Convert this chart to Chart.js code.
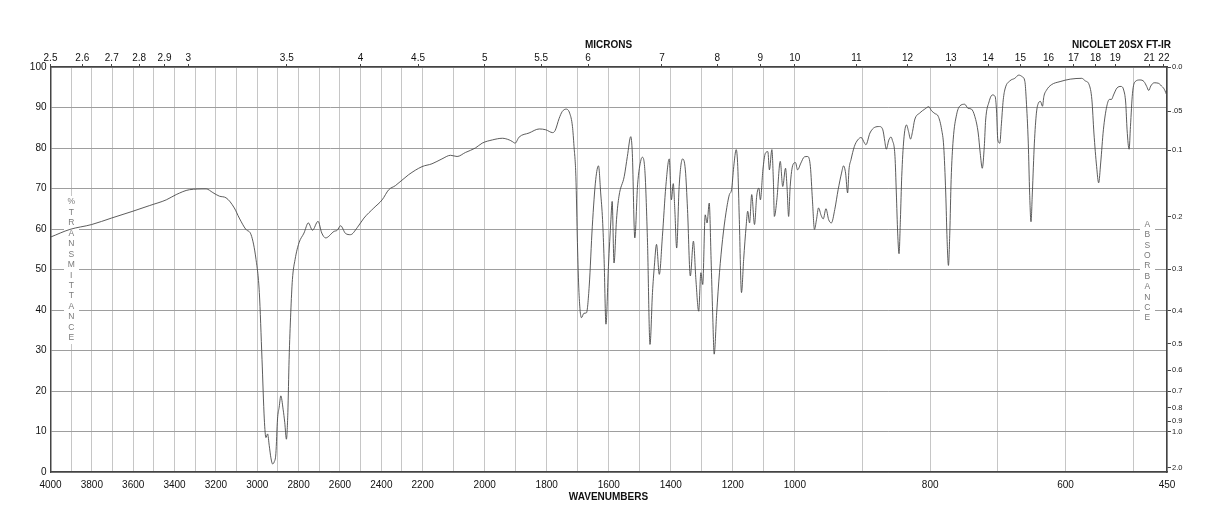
<!DOCTYPE html>
<html>
<head>
<meta charset="utf-8">
<script src="https://cdn.jsdelivr.net/npm/chart.js@4.4.1/dist/chart.umd.min.js"></script>
<style>
    html, body { margin: 0; padding: 0; background: #fff; }
    #wrap { width: 1218px; height: 528px; position: relative; }
</style>
</head>
<body>
<div id="wrap"><canvas id="ir"></canvas></div>
<script>
// 光谱数据 (波数 cm-1, 透过率 %T)
const wavenumbers = [
    4000, 3906, 3801, 3705, 3601, 3520, 3440, 3392, 3328, 3247, 3215, 3183, 3151, 3111, 3087, 3055, 3030, 3006, 2990, 2977,
    2966, 2958, 2950, 2942, 2934, 2926, 2918, 2910, 2902, 2894, 2886, 2875, 2867, 2859, 2852, 2846, 2838, 2830, 2817, 2798,
    2774, 2753, 2733, 2706, 2688, 2669, 2629, 2613, 2597, 2573, 2549, 2517, 2484, 2436, 2396, 2364, 2332, 2268, 2203, 2170,
    2138, 2110, 2089, 2062, 2030, 2008, 1975, 1943, 1921, 1911, 1902, 1889, 1857, 1824, 1803, 1781, 1773, 1760, 1750, 1737,
    1726, 1717, 1712, 1706, 1701, 1696, 1688, 1680, 1672, 1663, 1653, 1642, 1633, 1626, 1620, 1615, 1609, 1601, 1593, 1589,
    1583, 1575, 1567, 1550, 1540, 1529, 1524, 1516, 1507, 1496, 1491, 1483, 1475, 1467, 1459, 1453, 1446, 1437, 1427, 1416,
    1405, 1398, 1392, 1387, 1381, 1373, 1362, 1353, 1346, 1337, 1327, 1319, 1310, 1303, 1297, 1289, 1283, 1276, 1270, 1265,
    1260, 1252, 1243, 1233, 1222, 1211, 1204, 1197, 1189, 1184, 1179, 1172, 1165, 1157, 1152, 1146, 1139, 1130, 1123, 1116,
    1111, 1103, 1095, 1087, 1082, 1074, 1069, 1066, 1058, 1047, 1039, 1030, 1025, 1020, 1015, 1006, 999, 996, 991, 986,
    981, 977, 974, 971, 968, 965, 961, 958, 954, 950, 946, 941, 936, 931, 928, 925, 922, 920, 917, 912,
    907, 902, 897, 895, 889, 882, 875, 870, 867, 865, 861, 858, 856, 852, 850, 848, 846, 844, 842, 839,
    835, 832, 829, 826, 823, 815, 808, 802, 798, 793, 788, 783, 780, 777, 775, 773, 771, 769, 766, 761,
    756, 749, 744, 739, 734, 729, 726, 723, 720, 718, 713, 708, 704, 702, 700, 697, 695, 692, 689, 682,
    675, 669, 664, 660, 658, 655, 653, 651, 649, 646, 643, 640, 637, 634, 632, 628, 621, 608, 593, 576,
    571, 565, 561, 558, 554, 551, 548, 544, 539, 535, 532, 529, 524, 518, 514, 511, 509, 506, 504, 501,
    497, 490, 484, 480, 477, 474, 469, 463, 458, 454, 450
];
const transmittance = [
    58.0, 59.9, 61.1, 62.7, 64.4, 65.8, 67.2, 68.5, 69.7, 69.9, 69.0, 68.1, 67.7, 65.2, 62.7, 59.9, 58.6, 52.5, 44.3, 27.8,
    13.1, 8.5, 9.4, 6.5, 3.5, 2.0, 2.5, 4.5, 13.1, 16.0, 18.8, 15.5, 12.2, 8.1, 14.7, 27.8, 39.3, 47.5, 52.5, 56.6,
    59.0, 61.5, 59.7, 61.9, 59.0, 57.8, 59.4, 59.7, 60.8, 58.9, 58.6, 60.3, 62.7, 65.2, 67.2, 69.7, 70.7, 73.4, 75.4, 76.1,
    77.3, 78.2, 77.9, 78.9, 80.0, 81.2, 82.0, 82.4, 82.0, 81.6, 81.2, 82.7, 83.7, 84.7, 84.5, 83.8, 84.3, 87.3, 89.0, 89.6,
    88.6, 85.3, 80.4, 73.0, 56.6, 44.3, 38.1, 39.2, 39.3, 45.9, 60.7, 72.2, 75.6, 68.9, 62.3, 52.5, 36.5, 50.8, 62.3, 66.8,
    51.6, 62.3, 68.1, 73.0, 77.9, 82.8, 78.7, 57.8, 70.9, 77.1, 77.7, 73.8, 56.6, 31.5, 44.3, 50.8, 56.2, 48.8, 58.2, 70.5,
    77.3, 67.2, 71.2, 64.8, 55.3, 70.5, 77.3, 74.6, 64.8, 48.4, 57.0, 47.5, 39.7, 49.2, 46.3, 63.5, 61.5, 66.4, 52.5, 39.3,
    29.1, 39.3, 49.2, 57.4, 64.0, 68.5, 69.7, 75.4, 79.6, 75.4, 62.3, 44.3, 52.5, 60.7, 64.4, 61.5, 68.5, 61.1, 68.1, 70.1,
    67.2, 74.6, 78.7, 79.1, 74.6, 79.6, 71.4, 63.1, 67.2, 76.7, 70.5, 75.0, 70.1, 63.1, 70.5, 75.9, 76.4, 74.6, 76.3, 77.8,
    77.9, 75.4, 67.2, 59.9, 62.3, 65.2, 63.3, 62.5, 65.0, 62.3, 61.5, 64.8, 69.7, 73.8, 75.6, 73.8, 68.9, 74.6, 77.1, 80.4,
    82.0, 82.6, 81.2, 80.8, 83.7, 85.1, 85.3, 84.5, 81.6, 79.7, 82.0, 82.7, 82.0, 77.9, 68.9, 59.0, 53.9, 62.3, 73.0, 82.0,
    85.7, 84.1, 82.2, 84.1, 86.9, 88.7, 89.6, 90.2, 89.2, 88.5, 87.8, 84.5, 80.4, 68.9, 57.4, 51.0, 59.0, 72.2, 82.0, 88.2,
    90.4, 90.8, 89.8, 89.6, 87.8, 83.7, 78.7, 75.0, 80.4, 86.9, 91.4, 93.1, 92.7, 89.4, 82.0, 81.2, 85.3, 91.9, 94.8, 96.6,
    97.2, 98.0, 97.6, 96.4, 91.9, 81.2, 68.9, 61.8, 68.9, 81.2, 88.6, 91.1, 91.5, 90.3, 92.7, 94.3, 95.6, 96.4, 97.0, 97.2,
    96.6, 95.6, 91.9, 83.7, 75.4, 71.4, 76.3, 84.5, 90.3, 92.0, 92.0, 93.1, 94.8, 95.2, 94.3, 91.1, 84.5, 79.7, 85.3, 93.5,
    96.4, 96.8, 96.4, 95.2, 94.2, 95.3, 96.1, 96.0, 95.3, 94.5, 92.9
];

// 刻度
const wavenumberLabels = [4000, 3800, 3600, 3400, 3200, 3000, 2800, 2600, 2400, 2200, 2000, 1800, 1600, 1400, 1200, 1000, 800, 600, 450];
const micronLabels = ['2.5', '2.6', '2.7', '2.8', '2.9', '3', '3.5', '4', '4.5', '5', '5.5', '6', '7', '8', '9', '10', '11', '12', '13', '14', '15', '16', '17', '18', '19', '21', '22'];
const absorbanceLabels = ['0.0', '.05', '0.1', '0.2', '0.3', '0.4', '0.5', '0.6', '0.7', '0.8', '0.9', '1.0', '2.0'];

const FONT = '"Liberation Sans", Arial, Helvetica, sans-serif';

// 分段线性波数轴: 4000-2200, 2200-1000, 1000-450 各占三分之一
function wnToPos(wn) {
    if (wn >= 2200) return (4000 - wn) / 1800;
    if (wn >= 1000) return 1 + (2200 - wn) / 1200;
    return 2 + (1000 - wn) / 550;
}

const gridWn = [];
for (let w = 4000; w >= 500; w -= 100) gridWn.push(w);
gridWn.push(450);

const irText = {
    id: 'irText',
    beforeDatasetsDraw(chart) {
        const ctx = chart.ctx;
        ctx.save();
        ctx.fillStyle = '#fff';
        ctx.fillRect(64, 196, 15, 148);
        ctx.fillRect(1140, 218, 15, 106);
        ctx.fillStyle = '#7a7a7a';
        ctx.font = '8.5px ' + FONT;
        ctx.textAlign = 'center';
        ctx.textBaseline = 'middle';
        '%TRANSMITTANCE'.split('').forEach((c, i) => ctx.fillText(c, 71.3, 202 + i * 10.46));
        'ABSORBANCE'.split('').forEach((c, i) => ctx.fillText(c, 1147.3, 224.5 + i * 10.4));
        ctx.restore();
    },
    afterDraw(chart) {
        const ctx = chart.ctx;
        ctx.save();
        ctx.fillStyle = '#111';
        ctx.font = 'bold 10px ' + FONT;
        ctx.textBaseline = 'middle';
        ctx.textAlign = 'center';
        ctx.fillText('MICRONS', 608.5, 45);
        ctx.fillText('WAVENUMBERS', 608.5, 497);
        ctx.textAlign = 'right';
        ctx.fillText('NICOLET 20SX FT-IR', 1171, 45);
        ctx.restore();
    }
};

new Chart(document.getElementById('ir').getContext('2d'), {
    type: 'line',
    data: {
        datasets: [{
            data: wavenumbers.map((w, i) => ({ x: wnToPos(w), y: transmittance[i] })),
            borderColor: '#4a4a4a',
            borderWidth: 0.9,
            pointRadius: 0,
            fill: false,
            cubicInterpolationMode: 'monotone',
            xAxisID: 'x',
            yAxisID: 'y'
        }]
    },
    options: {
        responsive: true,
        maintainAspectRatio: false,
        animation: false,
        layout: { padding: 0 },
        plugins: { legend: { display: false }, tooltip: { enabled: false } },
        scales: {
            x: {
                type: 'linear', position: 'bottom', min: 0, max: 3,
                afterBuildTicks: s => { s.ticks = gridWn.map(w => ({ value: wnToPos(w) })); },
                afterFit: s => { s.height = 56; },
                ticks: {
                    autoSkip: false, maxRotation: 0, padding: 7, color: '#111',
                    font: { family: FONT, size: 10 },
                    callback: (v, i) => wavenumberLabels.includes(gridWn[i]) ? String(gridWn[i]) : ''
                },
                grid: { color: '#c6c6c6', lineWidth: 1, drawTicks: false },
                border: { display: true, color: '#444', width: 1.5 }
            },
            x2: {
                type: 'linear', position: 'top', min: 0, max: 3,
                afterBuildTicks: s => { s.ticks = micronLabels.map(m => ({ value: wnToPos(10000 / parseFloat(m)) })); },
                afterFit: s => { s.height = 67; },
                ticks: {
                    autoSkip: false, maxRotation: 0, padding: 0, color: '#111',
                    font: { family: FONT, size: 10 },
                    callback: (v, i) => micronLabels[i]
                },
                grid: { drawOnChartArea: false, tickLength: 3, color: '#444' },
                border: { display: true, color: '#444', width: 1.5 }
            },
            y: {
                type: 'linear', position: 'left', min: 0, max: 100,
                afterFit: s => { s.width = 50.5; },
                ticks: { stepSize: 10, padding: 4, color: '#111', font: { family: FONT, size: 10 } },
                grid: { color: '#9e9e9e', lineWidth: 1, drawTicks: false },
                border: { display: true, color: '#444', width: 1.5 }
            },
            y2: {
                type: 'linear', position: 'right', min: 0, max: 100,
                afterBuildTicks: s => { s.ticks = absorbanceLabels.map(a => ({ value: 100 * Math.pow(10, -parseFloat(a)) })); },
                afterFit: s => { s.width = 51; },
                ticks: {
                    autoSkip: false, padding: 1, color: '#222',
                    font: { family: FONT, size: 7.5 },
                    callback: (v, i) => absorbanceLabels[i]
                },
                grid: { drawOnChartArea: false, tickLength: 4, color: '#444' },
                border: { display: true, color: '#444', width: 1.5 }
            }
        }
    },
    plugins: [irText]
});
</script>
</body>
</html>
